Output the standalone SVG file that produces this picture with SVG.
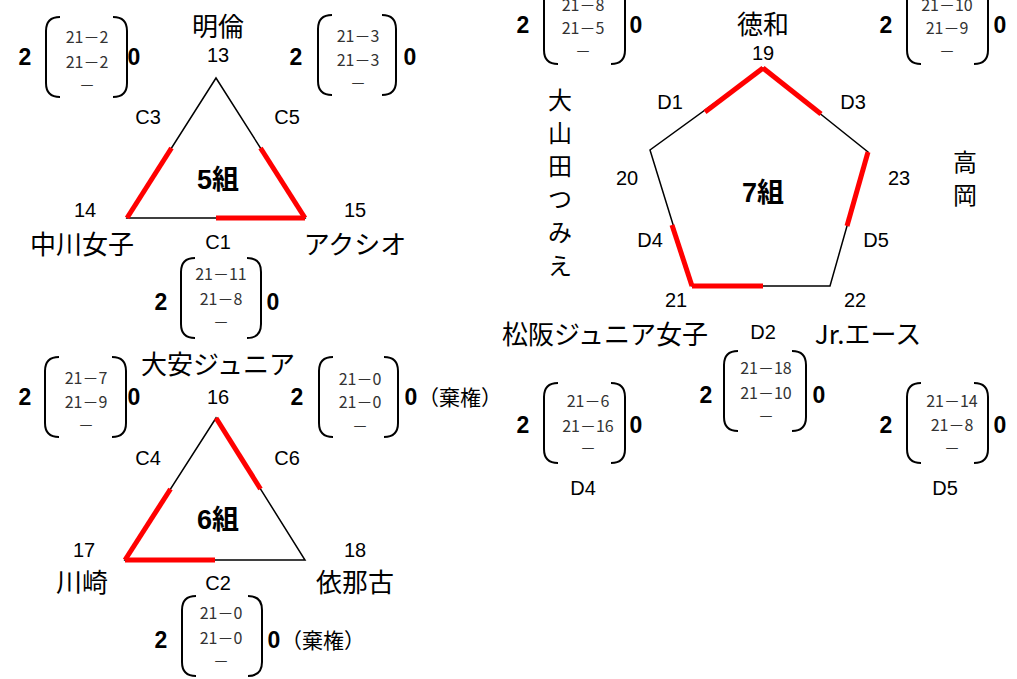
<svg xmlns="http://www.w3.org/2000/svg" width="1017" height="679" viewBox="0 0 1017 679">
<style>
text{font-family:"Liberation Sans","Noto Sans CJK JP",sans-serif;fill:#000;text-anchor:middle;dominant-baseline:central}
.jp{font-family:"Noto Sans CJK JP",sans-serif;font-size:26px}
.vt{font-family:"Noto Sans CJK JP",sans-serif;font-size:24px}
.num{font-size:20px}
.grp{font-size:27px;font-weight:bold;font-family:"Liberation Sans","Noto Sans CJK JP",sans-serif}
.sc{font-family:"Noto Sans CJK JP",sans-serif;font-size:16px;fill:#333}
.big{font-size:23px;font-weight:bold}
.kk{font-family:"Noto Sans CJK JP",sans-serif;font-size:21px;text-anchor:start}
.br{fill:none;stroke:#000;stroke-width:2}
.ln{stroke:#000;stroke-width:1.5;fill:none}
.win{stroke:#f00;stroke-width:5;stroke-linecap:butt;fill:none}
</style>
<defs>
<path id="lb" class="br" d="M14,0 Q0,0 0,14 L0,66 Q0,80 14,80"/>
<path id="rb" class="br" d="M-14,0 Q0,0 0,14 L0,66 Q0,80 -14,80"/>
</defs>

<g id="connectors">
<polygon class="ln" points="216,78 127,218 305,218"/>
<line class="win" x1="171.5" y1="148" x2="127" y2="218"/>
<line class="win" x1="260.5" y1="148" x2="305" y2="218"/>
<line class="win" x1="216" y1="218" x2="305" y2="218"/>
<polygon class="ln" points="216,418 125,560 305,560"/>
<line class="win" x1="216" y1="418" x2="260.5" y2="489"/>
<line class="win" x1="170.5" y1="489" x2="125" y2="560"/>
<line class="win" x1="125" y1="560" x2="215" y2="560"/>
<polygon class="ln" points="763,68 868,152 830,286 692,286 650,150"/>
<line class="win" x1="763" y1="68" x2="705" y2="112"/>
<line class="win" x1="763" y1="68" x2="821" y2="114"/>
<line class="win" x1="868" y1="152" x2="847" y2="226"/>
<line class="win" x1="672" y1="225" x2="692" y2="286"/>
<line class="win" x1="692" y1="286" x2="763" y2="286"/>
</g>

<g id="group5">
<text class="grp" x="218" y="180">5組</text>
<text class="num" x="148" y="117">C3</text>
<text class="num" x="287" y="117">C5</text>
<text class="num" x="218" y="242">C1</text>
</g>
<g id="n13"><text class="jp" x="218" y="24">明倫</text><text class="num" x="218" y="55">13</text></g>
<g id="n14"><text class="num" x="85" y="210">14</text><text class="jp" x="82" y="242">中川女子</text></g>
<g id="n15"><text class="num" x="355" y="210">15</text><text class="jp" x="355" y="242">アクシオ</text></g>

<g id="group6">
<text class="grp" x="218" y="520">6組</text>
<text class="num" x="148" y="458">C4</text>
<text class="num" x="287" y="458">C6</text>
<text class="num" x="218" y="583">C2</text>
</g>
<g id="n16"><text class="jp" x="218" y="362">大安ジュニア</text><text class="num" x="218" y="397">16</text></g>
<g id="n17"><text class="num" x="84" y="550">17</text><text class="jp" x="82" y="580">川崎</text></g>
<g id="n18"><text class="num" x="355" y="550">18</text><text class="jp" x="355" y="580">依那古</text></g>

<g id="group7">
<text class="grp" x="763" y="193">7組</text>
<text class="num" x="670" y="102">D1</text>
<text class="num" x="853" y="102">D3</text>
<text class="num" x="650" y="240">D4</text>
<text class="num" x="876" y="240">D5</text>
<text class="num" x="763" y="332">D2</text>
</g>
<g id="n19"><text class="jp" x="763" y="22">徳和</text><text class="num" x="763" y="53">19</text></g>
<g id="n20"><text class="num" x="627" y="178">20</text>
<text class="vt"><tspan x="560" y="98">大</tspan><tspan x="560" y="131">山</tspan><tspan x="560" y="164">田</tspan><tspan x="560" y="197">つ</tspan><tspan x="560" y="230">み</tspan><tspan x="560" y="264">え</tspan></text></g>
<g id="n21"><text class="num" x="676" y="300">21</text><text class="jp" x="605" y="332">松阪ジュニア女子</text></g>
<g id="n22"><text class="num" x="855" y="300">22</text><text class="jp" x="868" y="332">Jr.エース</text></g>
<g id="n23"><text class="num" x="899" y="178">23</text>
<text class="vt"><tspan x="965" y="160">高</tspan><tspan x="965" y="193">岡</tspan></text></g>

<g id="scoreC3">
<text class="big" x="25" y="57">2</text>
<use href="#lb" x="46" y="17"/><use href="#rb" x="127" y="17"/>
<text class="sc" x="87" y="36">21－2</text><text class="sc" x="87" y="61">21－2</text><text class="sc" x="87" y="84">－</text>
<text class="big" x="134" y="57">0</text>
</g>
<g id="scoreC5">
<text class="big" x="296" y="57">2</text>
<use href="#lb" x="318" y="15"/><use href="#rb" x="396" y="15"/>
<text class="sc" x="358" y="35">21－3</text><text class="sc" x="358" y="59">21－3</text><text class="sc" x="358" y="82">－</text>
<text class="big" x="410" y="57">0</text>
</g>
<g id="scoreC1">
<text class="big" x="161" y="302">2</text>
<use href="#lb" x="181" y="258"/><use href="#rb" x="261" y="258"/>
<text class="sc" x="221" y="273">21－11</text><text class="sc" x="221" y="298">21－8</text><text class="sc" x="221" y="321">－</text>
<text class="big" x="273" y="302">0</text>
</g>
<g id="scoreC4">
<text class="big" x="25" y="397">2</text>
<use href="#lb" x="45" y="357"/><use href="#rb" x="126" y="357"/>
<text class="sc" x="86" y="377">21－7</text><text class="sc" x="86" y="401">21－9</text><text class="sc" x="86" y="424">－</text>
<text class="big" x="134" y="397">0</text>
</g>
<g id="scoreC6">
<text class="big" x="297" y="397">2</text>
<use href="#lb" x="319" y="357"/><use href="#rb" x="398" y="357"/>
<text class="sc" x="360" y="378">21－0</text><text class="sc" x="360" y="401">21－0</text><text class="sc" x="360" y="425">－</text>
<text class="big" x="411" y="397">0</text><text class="kk" x="418" y="396">（棄権）</text>
</g>
<g id="scoreC2">
<text class="big" x="161" y="640">2</text>
<use href="#lb" x="182" y="596"/><use href="#rb" x="262" y="596"/>
<text class="sc" x="221" y="612">21－0</text><text class="sc" x="221" y="637">21－0</text><text class="sc" x="221" y="660">－</text>
<text class="big" x="274" y="640">0</text><text class="kk" x="281" y="639">（棄権）</text>
</g>
<g id="scoreD1">
<text class="big" x="523" y="25">2</text>
<use href="#lb" x="544" y="-16"/><use href="#rb" x="625" y="-16"/>
<text class="sc" x="583" y="4">21－8</text><text class="sc" x="583" y="27">21－5</text><text class="sc" x="583" y="50">－</text>
<text class="big" x="636" y="25">0</text>
</g>
<g id="scoreD3">
<text class="big" x="886" y="25">2</text>
<use href="#lb" x="907" y="-16"/><use href="#rb" x="988" y="-16"/>
<text class="sc" x="947" y="4">21－10</text><text class="sc" x="947" y="27">21－9</text><text class="sc" x="947" y="50">－</text>
<text class="big" x="1000" y="25">0</text>
</g>
<g id="scoreD4">
<text class="big" x="523" y="425">2</text>
<use href="#lb" x="544" y="383"/><use href="#rb" x="625" y="383"/>
<text class="sc" x="588" y="400">21－6</text><text class="sc" x="588" y="425">21－16</text><text class="sc" x="588" y="447">－</text>
<text class="big" x="636" y="425">0</text>
<text class="num" x="583" y="488">D4</text>
</g>
<g id="scoreD2">
<text class="big" x="706" y="395">2</text>
<use href="#lb" x="724" y="351"/><use href="#rb" x="806" y="351"/>
<text class="sc" x="766" y="367">21－18</text><text class="sc" x="766" y="392">21－10</text><text class="sc" x="766" y="415">－</text>
<text class="big" x="819" y="395">0</text>
</g>
<g id="scoreD5">
<text class="big" x="886" y="425">2</text>
<use href="#lb" x="907" y="383"/><use href="#rb" x="988" y="383"/>
<text class="sc" x="952" y="400">21－14</text><text class="sc" x="952" y="424">21－8</text><text class="sc" x="952" y="447">－</text>
<text class="big" x="1000" y="425">0</text>
<text class="num" x="945" y="488">D5</text>
</g>
</svg>
